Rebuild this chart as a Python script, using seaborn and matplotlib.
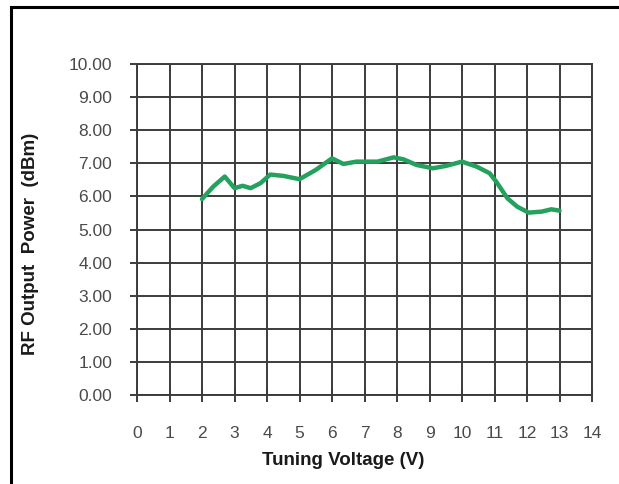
import matplotlib
matplotlib.use("Agg")
import matplotlib.pyplot as plt
import seaborn as sns
import pandas as pd
from matplotlib.patches import Rectangle

voltage = [2.0, 2.35, 2.7, 3.0, 3.25, 3.5, 3.8, 4.1, 4.5, 5.0, 5.5, 6.0, 6.35, 6.75,
           7.4, 7.9, 8.2, 8.6, 9.1, 9.5, 10.0, 10.45, 10.85, 11.05, 11.4, 11.7,
           12.05, 12.45, 12.75, 13.0]
power = [5.92, 6.3, 6.6, 6.25, 6.32, 6.25, 6.4, 6.66, 6.62, 6.52, 6.8, 7.15, 6.98, 7.05,
         7.05, 7.18, 7.12, 6.95, 6.85, 6.92, 7.05, 6.9, 6.7, 6.45, 5.94, 5.69,
         5.51, 5.54, 5.61, 5.57]
x_ticks = list(range(0, 15))
y_ticks = [0, 1, 2, 3, 4, 5, 6, 7, 8, 9, 10]

sns.set_style("white")
plt.rcParams['font.family'] = ['Liberation Sans', 'DejaVu Sans']

df = pd.DataFrame({"Tuning Voltage (V)": voltage, "RF Output Power (dBm)": power})

fig = plt.figure(figsize=(6.19, 4.84), dpi=100)
W, H = 619, 484
ax = fig.add_axes([137 / W, 1 - 395 / H, (592 - 137) / W, (395 - 64) / H])

# outer frame
fig.patches.append(Rectangle((11 / W, -0.05), 1.2, 1 - 7.5 / H + 0.05, transform=fig.transFigure,
                             fill=False, edgecolor="black", linewidth=2.2, zorder=10))

sns.lineplot(data=df, x="Tuning Voltage (V)", y="RF Output Power (dBm)", ax=ax,
             color="#23a15d", linewidth=3.2, zorder=5)

ax.set_xlim(0, 14)
ax.set_ylim(0, 10)
ax.set_xticks(x_ticks)
ax.set_yticks(y_ticks)
ax.set_xticklabels([str(t) for t in x_ticks])
ax.set_yticklabels([f"{t:.2f}" for t in y_ticks])
ax.grid(True, color="#3c3c3c", linewidth=1.4)
ax.set_axisbelow(True)
for s in ax.spines.values():
    s.set_color("#3c3c3c")
    s.set_linewidth(1.4)
ax.tick_params(axis="x", direction="inout", length=10, width=1.4, color="#3c3c3c",
               pad=17, labelsize=12.5, labelcolor="#4a4a4a", bottom=True)
ax.tick_params(axis="y", direction="out", length=5, width=1.4, color="#3c3c3c",
               pad=13, labelsize=12.5, labelcolor="#4a4a4a", left=True)

ax.set_xlabel("Tuning Voltage (V)", fontsize=13.5, fontweight="bold", color="#1a1a1a")
ax.set_ylabel("RF Output  Power  (dBm)", fontsize=13.5, fontweight="bold", color="#1a1a1a")
ax.xaxis.set_label_coords((343 - 137) / (592 - 137), -(452 - 395) / (395 - 64))
ax.yaxis.set_label_coords(-(137 - 39) / (592 - 137), (395 - 244) / (395 - 64))

fig.savefig("out.png", dpi=100)
